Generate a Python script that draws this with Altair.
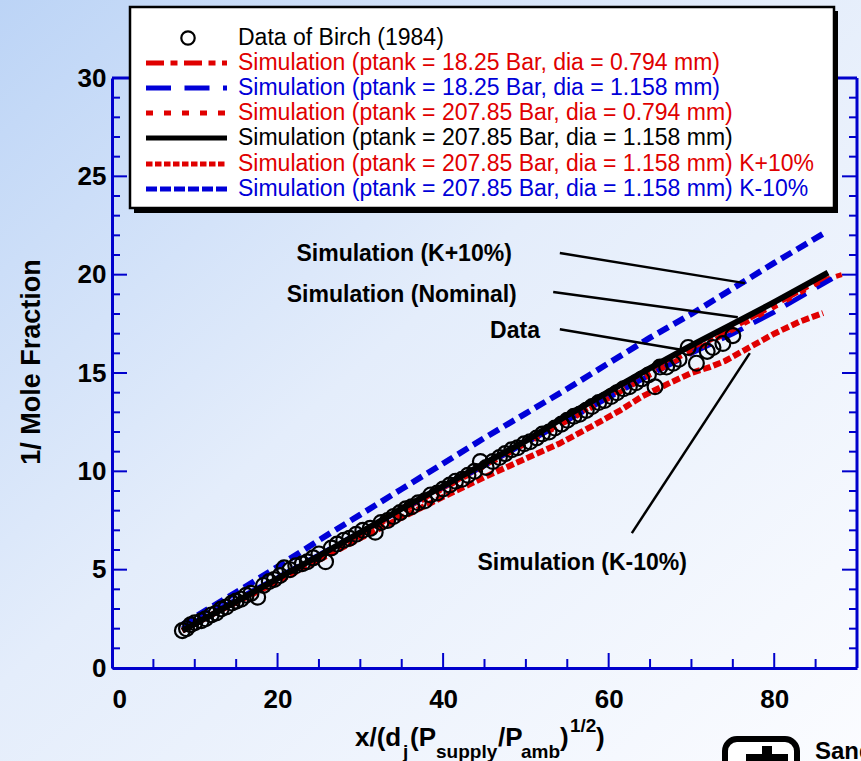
import altair as alt
import pandas as pd

W, H = 745, 590          # plot area
PL, PT = 112, 78         # padding left / top
FONT = "Liberation Sans"
RED = "#e00000"
BLUE = "#0000d8"
AXC = "#0000cc"

# ---------------- data ----------------
birch_x = [8.5, 9.0, 9.5, 10.0, 10.8, 11.3, 12.0, 12.6, 13.2, 13.8, 14.5, 15.0, 15.6, 16.2,
           16.8, 17.6, 18.3, 19.0, 19.6, 20.3, 20.8, 21.5, 22.2, 23.0, 23.6, 24.3, 25.0, 25.8,
           26.5, 27.2, 28.0, 28.7, 29.5, 30.3, 31.2, 31.8, 32.5, 33.3, 34.0, 34.8, 35.5, 36.2,
           37.0, 37.8, 38.5, 39.3, 40.0, 40.8, 41.5, 42.3, 43.0, 43.8, 44.5, 45.2, 46.0, 46.8,
           47.5, 48.3, 49.0, 49.8, 50.5, 51.3, 52.0, 52.8, 53.5, 54.3, 55.0, 55.8, 56.5, 57.3,
           58.0, 58.8, 59.5, 60.3, 61.0, 61.8, 62.5, 63.3, 64.0, 64.8, 65.6, 66.2, 67.0, 67.8,
           68.5, 69.6, 70.6, 71.9, 72.6, 73.8, 75.0]
birch_y = [1.9, 2.0, 2.2, 2.3, 2.4, 2.5, 2.7, 2.8, 3.0, 3.1, 3.3, 3.4, 3.5, 3.7,
           3.8, 3.6, 4.2, 4.4, 4.5, 4.7, 5.1, 5.0, 5.2, 5.3, 5.4, 5.6, 5.8, 5.4,
           6.1, 6.3, 6.5, 6.6, 6.8, 7.0, 7.1, 6.9, 7.4, 7.5, 7.7, 7.9, 8.1, 8.2,
           8.4, 8.5, 8.8, 8.9, 9.1, 9.3, 9.5, 9.6, 9.8, 10.0, 10.5, 10.2, 10.5, 10.7,
           10.9, 11.1, 11.2, 11.4, 11.5, 11.7, 11.9, 12.0, 12.2, 12.4, 12.6, 12.8, 12.9, 13.1,
           13.3, 13.5, 13.6, 13.8, 14.0, 14.2, 14.3, 14.5, 14.7, 14.9, 14.3, 15.3, 15.3, 15.5,
           15.7, 16.3, 15.5, 16.1, 16.3, 16.5, 16.9]

# Simulation (ptank = 18.25 Bar, dia = 0.794 mm)
s1_x = [8.5, 12, 16, 20, 25, 30, 35, 40, 45, 50, 55, 60, 65, 70, 75, 80, 85, 88.5]
s1_y = [1.9, 2.7, 3.6, 4.55, 5.7, 6.85, 8.0, 9.15, 10.3, 11.45, 12.6, 13.8, 15.0, 16.15, 17.3, 18.45, 19.6, 20.05]
# Simulation (ptank = 18.25 Bar, dia = 1.158 mm)
s2_x = [8.5, 12, 16, 20, 25, 30, 35, 40, 45, 50, 55, 60, 65, 70, 75, 80, 87]
s2_y = [2.0, 2.8, 3.7, 4.6, 5.75, 6.9, 8.05, 9.2, 10.3, 11.45, 12.6, 13.75, 14.9, 16.0, 17.0, 18.1, 19.8]
# Simulation (ptank = 207.85 Bar, dia = 0.794 mm)
s3_x = [8.5, 12, 16, 20, 25, 30, 35, 40, 45, 50, 55, 60, 65, 70, 75, 80, 86]
s3_y = [1.9, 2.7, 3.6, 4.5, 5.65, 6.8, 7.95, 9.1, 10.25, 11.4, 12.55, 13.7, 14.9, 16.05, 17.2, 18.35, 19.75]
# Simulation (ptank = 207.85 Bar, dia = 1.158 mm)  nominal
s4_x = [8.5, 12, 16, 20, 25, 30, 35, 40, 45, 50, 55, 60, 65, 70, 75, 80, 86.5]
s4_y = [1.9, 2.7, 3.6, 4.55, 5.7, 6.9, 8.1, 9.25, 10.4, 11.55, 12.85, 14.05, 15.25, 16.4, 17.5, 18.6, 20.1]
# Simulation (ptank = 207.85 Bar, dia = 1.158 mm) K+10%
s5_x = [8.5, 12, 16, 20, 25, 30, 35, 40, 45, 50, 54, 58, 61.4, 64, 67.4, 70, 72.2, 74, 77, 80, 83, 85.9]
s5_y = [1.9, 2.7, 3.55, 4.4, 5.5, 6.6, 7.65, 8.7, 9.7, 10.65, 11.4, 12.3, 13.1, 13.8, 14.5, 15.0, 15.3, 15.6, 16.3, 17.0, 17.6, 18.05]
# Simulation (ptank = 207.85 Bar, dia = 1.158 mm) K-10%
s6_x = [8.5, 12, 16, 20, 25, 30, 35, 40, 45, 50, 55, 60, 65, 70, 75, 80, 86.4]
s6_y = [2.2, 3.1, 4.1, 5.15, 6.5, 7.8, 9.1, 10.4, 11.7, 12.95, 14.2, 15.5, 16.8, 18.0, 19.3, 20.6, 22.2]

legend_labels = [
    "Data of Birch (1984)",
    "Simulation (ptank = 18.25 Bar, dia = 0.794 mm)",
    "Simulation (ptank = 18.25 Bar, dia = 1.158 mm)",
    "Simulation (ptank = 207.85 Bar, dia = 0.794 mm)",
    "Simulation (ptank = 207.85 Bar, dia = 1.158 mm)",
    "Simulation (ptank = 207.85 Bar, dia = 1.158 mm) K+10%",
    "Simulation (ptank = 207.85 Bar, dia = 1.158 mm) K-10%",
]
legend_colors = ["black", RED, BLUE, RED, "black", RED, BLUE]

# annotations
ann_text = ["Simulation (K+10%)", "Simulation (Nominal)", "Data", "Simulation (K-10%)"]
ann_tx = [48.3, 48.9, 51.7, 56.8]
ann_ty = [21.05, 18.96, 17.13, 5.34]
ann_align = ["right", "right", "right", "center"]
ann_x1 = [54.1, 53.3, 54.1, 77.05]
ann_y1 = [21.10, 19.12, 17.23, 16.01]
ann_x2 = [76.45, 75.6, 68.96, 62.8]
ann_y2 = [19.57, 17.84, 16.17, 6.86]

x_major = [0, 20, 40, 60, 80]
x_minor = [5, 10, 15, 25, 30, 35, 45, 50, 55, 65, 70, 75, 85]
y_major = [0, 5, 10, 15, 20, 25, 30]
y_minor = [v for v in range(1, 30) if v % 5 != 0]

# ---------------- encodings ----------------
xsc = alt.Scale(domain=[0, 90], nice=False, zero=False)
ysc = alt.Scale(domain=[0, 30], nice=False, zero=False)
xaxis = alt.Axis(values=x_major, ticks=False, tickSize=0, domainColor=AXC, domainWidth=3,
                 labelFont=FONT, labelFontSize=26, labelFontWeight="bold", labelColor="black",
                 labelPadding=18, grid=False, title=None, zindex=1)
yaxis = alt.Axis(values=y_major, ticks=False, tickSize=0, domainColor=AXC, domainWidth=3,
                 labelFont=FONT, labelFontSize=26, labelFontWeight="bold", labelColor="black",
                 labelPadding=6, grid=False, title=None, zindex=1)


def X(f="x"):
    return alt.X(f"{f}:Q", scale=xsc, axis=xaxis)


def Y(f="y"):
    return alt.Y(f"{f}:Q", scale=ysc, axis=yaxis)


one = pd.DataFrame({"k": [0]})
layers = []

# background gradient
grad = alt.Gradient(gradient="linear", x1=0, y1=0, x2=1, y2=1,
                    stops=[alt.GradientStop(color="#bcd4f6", offset=0),
                           alt.GradientStop(color="#e4edfb", offset=0.45),
                           alt.GradientStop(color="#fbfcff", offset=1)])
layers.append(alt.Chart(one).mark_rect(fill=grad).encode(
    x=alt.value(-PL), x2=alt.value(861 - PL), y=alt.value(-PT), y2=alt.value(761 - PT)))

# frame (right and top) lines
layers.append(alt.Chart(one).mark_rule(color=AXC, strokeWidth=3).encode(
    x=alt.value(W), y=alt.value(0), y2=alt.value(H)))
layers.append(alt.Chart(one).mark_rule(color=AXC, strokeWidth=3).encode(
    x=alt.value(0), x2=alt.value(W), y=alt.value(0)))

# inward ticks
for vals, ln in [(y_major, 15), (y_minor, 8)]:
    d = pd.DataFrame({"y": vals})
    layers.append(alt.Chart(d).mark_rule(color=AXC, strokeWidth=2).encode(
        y=Y(), x=alt.value(0), x2=alt.value(ln)))
    layers.append(alt.Chart(d).mark_rule(color=AXC, strokeWidth=2).encode(
        y=Y(), x=alt.value(W), x2=alt.value(W - ln)))
for vals, ln in [(x_major, 15), (x_minor, 9)]:
    d = pd.DataFrame({"x": vals})
    layers.append(alt.Chart(d).mark_rule(color=AXC, strokeWidth=2).encode(
        x=X(), y=alt.value(H), y2=alt.value(H - ln)))

# simulation lines
series = [
    (s1_x, s1_y, RED, [18, 6, 6, 6], 5),
    (s2_x, s2_y, BLUE, [24, 12], 5),
    (s3_x, s3_y, RED, [6, 10], 5),
    (s5_x, s5_y, RED, [8, 3], 6),
    (s6_x, s6_y, BLUE, [12, 6], 6),
]
for xs, ys, c, dash, w in series:
    d = pd.DataFrame({"x": xs, "y": ys})
    layers.append(alt.Chart(d).mark_line(color=c, strokeDash=dash, strokeWidth=w).encode(
        x=X(), y=Y()))
d4 = pd.DataFrame({"x": s4_x, "y": s4_y})
layers.append(alt.Chart(d4).mark_line(color="black", strokeWidth=6).encode(x=X(), y=Y()))

# data points
db = pd.DataFrame({"x": birch_x, "y": birch_y})
layers.append(alt.Chart(db).mark_point(shape="circle", filled=False, size=220, strokeWidth=2.2,
                                       color="black", opacity=1).encode(x=X(), y=Y()))

# annotations
da = pd.DataFrame({"x": ann_x1, "y": ann_y1, "x2": ann_x2, "y2": ann_y2})
layers.append(alt.Chart(da).mark_rule(color="black", strokeWidth=2.5).encode(
    x=X(), y=Y(), x2="x2:Q", y2="y2:Q"))
for t, tx, ty, al in zip(ann_text, ann_tx, ann_ty, ann_align):
    dt = pd.DataFrame({"x": [tx], "y": [ty]})
    layers.append(alt.Chart(dt).mark_text(text=t, align=al, baseline="middle", font=FONT,
                                          fontSize=23, fontWeight="bold", color="black").encode(
        x=X(), y=Y()))

# legend box
layers.append(alt.Chart(one).mark_rect(fill="black").encode(
    x=alt.value(134 - PL), x2=alt.value(838 - PL), y=alt.value(11 - PT), y2=alt.value(213 - PT)))
layers.append(alt.Chart(one).mark_rect(fill="white", stroke="black", strokeWidth=2.5).encode(
    x=alt.value(130 - PL), x2=alt.value(834 - PL), y=alt.value(7 - PT), y2=alt.value(208 - PT)))

row_y = [38, 63, 88, 113, 138, 164, 189]
leg_dash = [None, [18, 6.5, 7, 6.5], [25, 13.5], [7, 11], None, [6.5, 2.5], [11, 3]]
for i, (lab, col) in enumerate(zip(legend_labels, legend_colors)):
    py = row_y[i] - PT
    if i == 0:
        layers.append(alt.Chart(one).mark_point(shape="circle", filled=False, size=180,
                                                strokeWidth=2.2, color="black", opacity=1).encode(
            x=alt.value(188 - PL), y=alt.value(py)))
    else:
        kw = dict(color=col, strokeWidth=5)
        if leg_dash[i] is not None:
            kw["strokeDash"] = leg_dash[i]
        layers.append(alt.Chart(one).mark_rule(**kw).encode(
            x=alt.value(146 - PL), x2=alt.value(227 - PL), y=alt.value(py)))
    layers.append(alt.Chart(one).mark_text(text=lab, align="left", baseline="middle", font=FONT,
                                           fontSize=23, color=col).encode(
        x=alt.value(238 - PL), y=alt.value(py)))

# axis titles
title_parts = [
    ("x/(d", 355, 746, 26), ("j", 403, 758, 19), ("(P", 410, 746, 26),
    ("supply", 436, 758, 19), ("/P", 498, 746, 26), ("amb", 521, 758, 19),
    (")", 560, 746, 26), ("1/2", 570, 732, 19), (")", 596, 746, 26),
]
for t, px, py, fs in title_parts:
    layers.append(alt.Chart(one).mark_text(text=t, align="left", baseline="alphabetic", font=FONT,
                                           fontSize=fs, fontWeight="bold", color="black").encode(
        x=alt.value(px - PL), y=alt.value(py - PT)))
layers.append(alt.Chart(one).mark_text(text="1/ Mole Fraction", angle=270, align="center",
                                       baseline="middle", font=FONT, fontSize=27,
                                       fontWeight="bold", color="black").encode(
    x=alt.value(32 - PL), y=alt.value(362 - PT)))

# Sandia logo (partial, bottom right)
layers.append(alt.Chart(one).mark_rect(fill="white", stroke="black", strokeWidth=6,
                                       cornerRadius=12).encode(
    x=alt.value(725 - PL), x2=alt.value(797 - PL), y=alt.value(739 - PT), y2=alt.value(800 - PT)))
layers.append(alt.Chart(one).mark_rect(fill="black").encode(
    x=alt.value(762 - PL), x2=alt.value(772 - PL), y=alt.value(746 - PT), y2=alt.value(761 - PT)))
layers.append(alt.Chart(one).mark_rect(fill="black").encode(
    x=alt.value(746 - PL), x2=alt.value(788 - PL), y=alt.value(754 - PT), y2=alt.value(761 - PT)))
layers.append(alt.Chart(one).mark_text(text="Sandia", align="left",
                                       baseline="alphabetic", font=FONT, fontSize=24,
                                       fontWeight="bold", color="black").encode(
    x=alt.value(815 - PL), y=alt.value(759 - PT)))

chart = alt.layer(*layers).properties(
    width=W, height=H,
    padding={"left": PL, "top": PT, "right": 861 - PL - W, "bottom": 761 - PT - H},
    autosize=alt.AutoSizeParams(type="none"),
    background="white",
).configure_view(strokeWidth=0)

chart.save("out.html", embed_options={"renderer": "svg", "actions": False})
